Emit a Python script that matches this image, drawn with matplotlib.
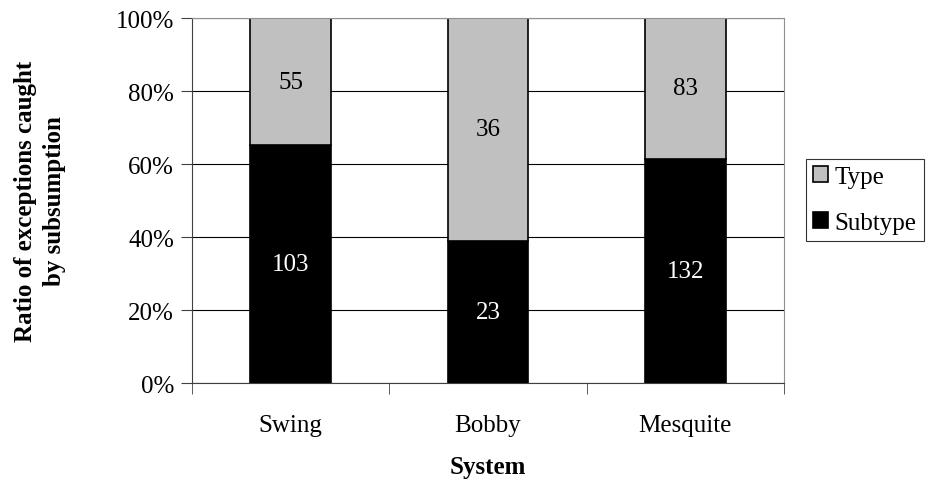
import matplotlib
matplotlib.use("Agg")
import matplotlib.pyplot as plt
import numpy as np

systems = ["Swing", "Bobby", "Mesquite"]
subtype = [103, 23, 132]
type_ = [55, 36, 83]

plt.rcParams['font.family'] = ['Liberation Serif', 'DejaVu Serif']
font_size = 18

sub = np.array(subtype, dtype=float)
typ = np.array(type_, dtype=float)
total = sub + typ
sub_pct = sub / total * 100
typ_pct = typ / total * 100

fig = plt.figure(figsize=(9.26, 4.85), dpi=100)
ax = fig.add_axes([0.2073, 0.2082, 0.6394, 0.7526])

x = np.arange(len(systems))
w = 0.41
ax.set_axisbelow(True)
ax.yaxis.grid(True, color='black', linewidth=0.8)
b1 = ax.bar(x, sub_pct, w, color='black', edgecolor='black', linewidth=1.2, label='Subtype')
b2 = ax.bar(x, typ_pct, w, bottom=sub_pct, color='#c0c0c0', edgecolor='black', linewidth=1.2, label='Type')

for i in range(len(systems)):
  ax.text(x[i], sub_pct[i] / 2, str(subtype[i]), ha='center', va='center', color='white', fontsize=font_size)
  ax.text(x[i], sub_pct[i] + typ_pct[i] / 2, str(type_[i]), ha='center', va='center', color='black', fontsize=font_size)

ax.set_xlim(-0.5, 2.5)
ax.set_ylim(0, 100)
ax.set_yticks(range(0, 101, 20))
ax.set_yticklabels(["%d%%" % v for v in range(0, 101, 20)], fontsize=font_size)
ax.set_xticks(x)
ax.set_xticklabels(systems, fontsize=font_size)
ax.tick_params(axis='x', length=0, pad=22)
ax.set_xticks([-0.5, 0.5, 1.5, 2.5], minor=True)
ax.tick_params(axis='x', which='minor', length=8, color='#404040')
ax.tick_params(axis='y', length=8, color='#404040', pad=5)

ax.spines['top'].set_color('#909090')
ax.spines['right'].set_color('#909090')
ax.spines['left'].set_color('#404040')
ax.spines['bottom'].set_color('#404040')

ax.set_xlabel("System", fontsize=font_size, fontweight='bold', labelpad=14)
ax.set_ylabel("Ratio of exceptions caught\nby subsumption", fontsize=font_size, fontweight='bold',
              labelpad=36, linespacing=1.3)

leg = fig.legend(handles=[b2, b1], labels=['Type', 'Subtype'], loc='center left',
                 bbox_to_anchor=(0.8704, 0.5856), fontsize=font_size, frameon=True,
                 fancybox=False, edgecolor='black', handlelength=0.6, handleheight=0.6,
                 handletextpad=0.25, borderpad=0.3, labelspacing=0.95, borderaxespad=0)
leg.get_frame().set_linewidth(0.8)

fig.savefig("out.png", dpi=100)
